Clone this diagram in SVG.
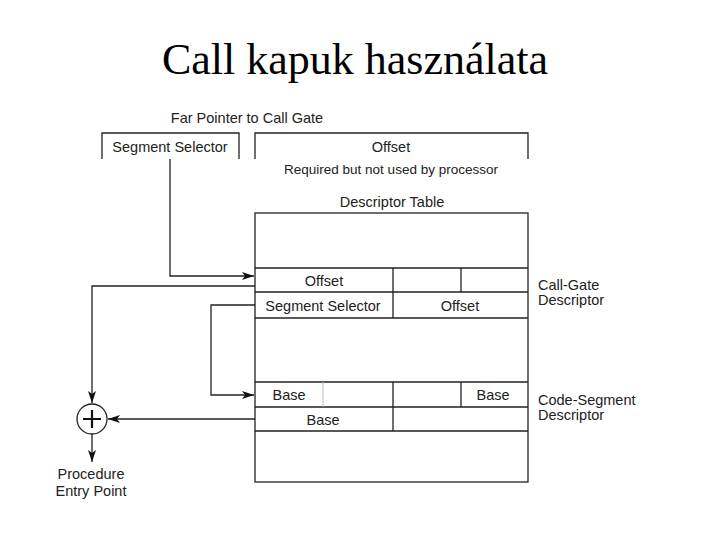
<svg xmlns="http://www.w3.org/2000/svg" width="720" height="540" viewBox="0 0 720 540">
<style>
.t{font-family:"Liberation Sans",Arial,sans-serif;font-size:14.5px;fill:#222}
.m{text-anchor:middle}
.b{fill:none;stroke:#222;stroke-width:1.3}
.g{fill:none;stroke:#bbb;stroke-width:1}
.c{fill:none;stroke:#222;stroke-width:1.3}
</style>
<defs>
<marker id="ah" viewBox="0 0 12 8" refX="12" refY="4" markerWidth="12" markerHeight="8" markerUnits="userSpaceOnUse" orient="auto">
<path d="M0,0 L12,4 L0,8 L3,4 Z" fill="#111"/>
</marker>
</defs>
<rect width="720" height="540" fill="#fff"/>
<text x="355" y="74" text-anchor="middle" font-family="'Liberation Serif','Times New Roman',serif" font-size="44" fill="#000">Call kapuk használata</text>

<g id="far-pointer">
<text class="t m" x="247" y="123">Far Pointer to Call Gate</text>
<path class="b" d="M102,159 V133 H239 V159"/>
<text class="t m" x="170" y="152">Segment Selector</text>
<path class="b" d="M255,159 V133 H528 V159"/>
<text class="t m" x="391" y="152">Offset</text>
<text class="t m" x="391" y="174" style="font-size:13.5px">Required but not used by processor</text>
</g>

<g id="descriptor-table">
<text class="t m" x="392" y="207">Descriptor Table</text>
<rect class="b" x="255" y="213" width="273" height="269"/>
<path class="b" d="M255,268 H528 M255,292 H528 M255,318 H528 M255,382 H528 M255,407 H528 M255,431 H528"/>
</g>

<g id="call-gate-descriptor">
<path class="b" d="M393,268 V318 M461,268 V292"/>
<text class="t m" x="324" y="286">Offset</text>
<text class="t m" x="323" y="311">Segment Selector</text>
<text class="t m" x="460" y="311">Offset</text>
<text class="t" x="538" y="290">Call-Gate</text>
<text class="t" x="538" y="305">Descriptor</text>
</g>

<g id="code-segment-descriptor">
<path class="g" d="M323,382 V407"/>
<path class="b" d="M393,382 V431 M461,382 V407"/>
<text class="t m" x="289" y="400">Base</text>
<text class="t m" x="493" y="400">Base</text>
<text class="t m" x="323" y="425">Base</text>
<text class="t" x="538" y="405">Code-Segment</text>
<text class="t" x="538" y="420">Descriptor</text>
</g>

<g id="adder">
<circle cx="92" cy="419" r="15" fill="#fff" stroke="#222" stroke-width="1.3"/>
<path d="M83,419 H101 M92,410 V428" stroke="#111" stroke-width="2.2"/>
</g>

<g id="entry-point">
<text class="t m" x="91" y="479">Procedure</text>
<text class="t m" x="91" y="496">Entry Point</text>
</g>

<g id="connectors">
<path class="c" d="M170,159 V276 H254" marker-end="url(#ah)"/>
<path class="c" d="M255,286 H92 V403" marker-end="url(#ah)"/>
<path class="c" d="M255,305 H211 V395 H254" marker-end="url(#ah)"/>
<path class="c" d="M255,419 H108" marker-end="url(#ah)"/>
<path class="c" d="M92,434 V462" marker-end="url(#ah)"/>
</g>
</svg>
